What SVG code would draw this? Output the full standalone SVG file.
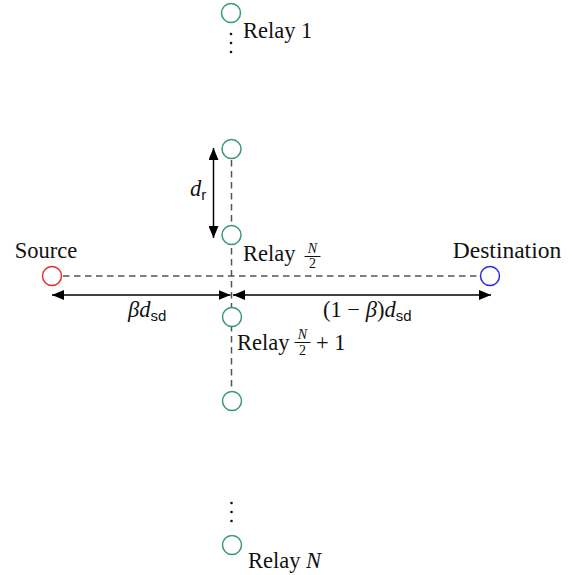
<svg xmlns="http://www.w3.org/2000/svg" width="575" height="575" viewBox="0 0 575 575">
<style>
text{font-family:"Liberation Serif","Times New Roman",serif;fill:#111}
.t{font-size:22.5px}
.m{font-style:italic;font-size:22.5px}
.s{font-family:"Liberation Sans","DejaVu Sans",sans-serif;font-style:normal;font-size:15px}
.fn{font-style:italic;font-size:14px}
.fd{font-style:normal;font-size:14px}
.relay{fill:#fff;stroke:#3b9a72;stroke-width:1.5}
.dash{stroke:#555;stroke-width:1.5;stroke-dasharray:6.5 4.5;fill:none}
.arr{stroke:#000;stroke-width:1.5;fill:none}
.bar{stroke:#111;stroke-width:1}
.dot{fill:#111}
</style>
<defs>
<marker id="ah" viewBox="0 0 12 10" refX="12" refY="5" markerWidth="12" markerHeight="10" markerUnits="userSpaceOnUse" orient="auto-start-reverse">
<path d="M0,0 L12,5 L0,10 Z" fill="#000"/>
</marker>
</defs>
<g id="connectors">
<line class="dash" x1="231.5" y1="149" x2="231.5" y2="401"/>
<line class="dash" x1="52" y1="276" x2="490" y2="276"/>
<line class="arr" x1="52" y1="295" x2="230.5" y2="295" marker-start="url(#ah)" marker-end="url(#ah)"/>
<line class="arr" x1="233" y1="295" x2="491" y2="295" marker-start="url(#ah)" marker-end="url(#ah)"/>
<line class="arr" x1="213.5" y1="148" x2="213.5" y2="238" marker-start="url(#ah)" marker-end="url(#ah)"/>
</g>
<g id="relay1">
<circle class="relay" cx="231" cy="13" r="9.5"/>
<text class="t" x="243" y="38">Relay 1</text>
<circle class="dot" cx="231" cy="34" r="1.3"/>
<circle class="dot" cx="231" cy="43" r="1.3"/>
<circle class="dot" cx="231" cy="52" r="1.3"/>
</g>
<g id="relayA">
<circle class="relay" cx="231.5" cy="149" r="9.5"/>
</g>
<g id="relayHalf">
<circle class="relay" cx="231.5" cy="235" r="9.5"/>
<text class="t" x="243" y="261">Relay</text>
<text class="fn" x="312.5" y="253" text-anchor="middle">N</text>
<line class="bar" x1="304.5" y1="256.5" x2="320.5" y2="256.5"/>
<text class="fd" x="312.5" y="268" text-anchor="middle">2</text>
</g>
<g id="relayHalf1">
<circle class="relay" cx="232" cy="317" r="9.5"/>
<text class="t" x="237" y="350">Relay</text>
<text class="fn" x="302.5" y="339" text-anchor="middle">N</text>
<line class="bar" x1="294.5" y1="342.5" x2="310.5" y2="342.5"/>
<text class="fd" x="302.5" y="355" text-anchor="middle">2</text>
<text class="t" x="316" y="350">+ 1</text>
</g>
<g id="relayB">
<circle class="relay" cx="232" cy="401" r="9.5"/>
</g>
<g id="relayN">
<circle class="relay" cx="232" cy="545" r="9.5"/>
<circle class="dot" cx="231.5" cy="503" r="1.3"/>
<circle class="dot" cx="231.5" cy="512" r="1.3"/>
<circle class="dot" cx="231.5" cy="521" r="1.3"/>
<text class="t" x="248" y="568">Relay <tspan class="m">N</tspan></text>
</g>
<g id="source">
<circle cx="52" cy="276" r="9.5" fill="#fff" stroke="#e23030" stroke-width="1.5"/>
<text class="t" x="46" y="258" text-anchor="middle">Source</text>
</g>
<g id="destination">
<circle cx="490" cy="276" r="9.5" fill="#fff" stroke="#2a2ae0" stroke-width="1.5"/>
<text class="t" x="507" y="258" text-anchor="middle" style="font-size:23.5px">Destination</text>
</g>
<g id="labels">
<text class="m" x="190" y="196">d<tspan class="s" dy="4">r</tspan></text>
<text class="m" x="128" y="317">βd<tspan class="s" dy="4">sd</tspan></text>
<text class="t" x="323" y="317">(1 − <tspan class="m">β</tspan>)<tspan class="m">d</tspan><tspan class="s" dy="4">sd</tspan></text>
</g>
</svg>
